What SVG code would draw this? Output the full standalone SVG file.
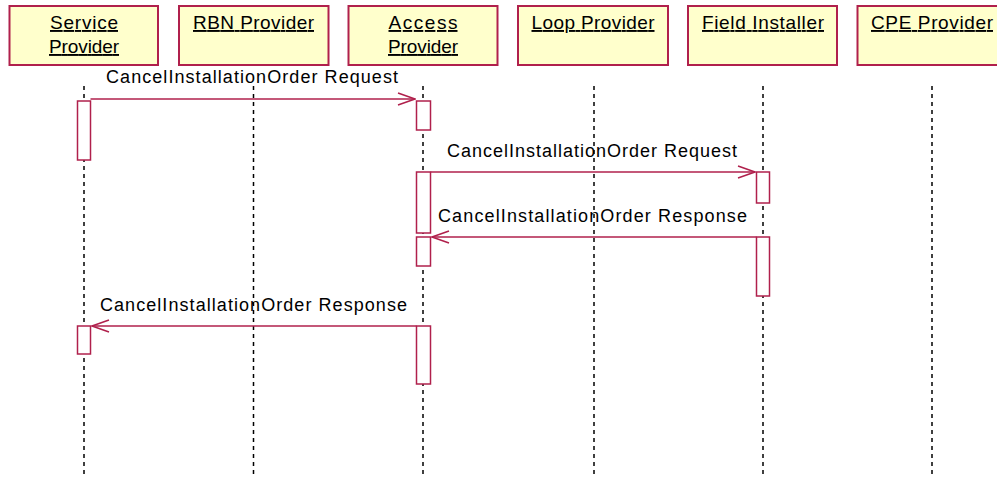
<svg xmlns="http://www.w3.org/2000/svg" width="997" height="477" viewBox="0 0 997 477">
<defs>
<style>
.hdr{fill:#FFFFCC;stroke:#B0204C;stroke-width:2}
.lbl{font-family:"Liberation Sans",Arial,sans-serif;font-size:19px;fill:#000;text-anchor:middle;text-decoration:underline}
.life{stroke:#000;stroke-width:1.5;stroke-dasharray:4 4;fill:none}
.act{fill:#fff;stroke:#B0204C;stroke-width:1.5}
.msg{stroke:#B0204C;stroke-width:1.5;fill:none}
.mtxt{font-family:"Liberation Sans",Arial,sans-serif;font-size:18px;fill:#000}
</style>
<marker id="open" viewBox="0 0 20 14" refX="19" refY="7" markerWidth="20" markerHeight="14" markerUnits="userSpaceOnUse" orient="auto">
<path d="M2,1 L19,7 L2,13" fill="none" stroke="#B0204C" stroke-width="1.5"/>
</marker>
</defs>
<rect width="997" height="477" fill="#fff"/>
<g id="lifelines">
<line class="life" x1="84" y1="86" x2="84" y2="477"/>
<line class="life" x1="253.5" y1="86" x2="253.5" y2="477"/>
<line class="life" x1="423" y1="86" x2="423" y2="477"/>
<line class="life" x1="594" y1="86" x2="594" y2="477"/>
<line class="life" x1="763" y1="86" x2="763" y2="477"/>
<line class="life" x1="932" y1="86" x2="932" y2="477"/>
</g>
<g id="service-provider">
<rect class="hdr" x="9.5" y="6" width="148.5" height="59"/>
<text class="lbl" x="84" y="29" textLength="68" lengthAdjust="spacing">Service </text>
<text class="lbl" x="84" y="53" textLength="70" lengthAdjust="spacing">Provider</text>
</g>
<g id="rbn-provider">
<rect class="hdr" x="179" y="6" width="149.5" height="59"/>
<text class="lbl" x="253.5" y="29" textLength="121" lengthAdjust="spacing">RBN Provider</text>
</g>
<g id="access-provider">
<rect class="hdr" x="348.5" y="6" width="149" height="59"/>
<text class="lbl" x="423" y="29" textLength="69" lengthAdjust="spacing">Access </text>
<text class="lbl" x="423" y="53" textLength="70" lengthAdjust="spacing">Provider</text>
</g>
<g id="loop-provider">
<rect class="hdr" x="518" y="6" width="150" height="59"/>
<text class="lbl" x="593" y="29" textLength="123" lengthAdjust="spacing">Loop Provider</text>
</g>
<g id="field-installer">
<rect class="hdr" x="688" y="6" width="149" height="59"/>
<text class="lbl" x="763" y="29" textLength="122" lengthAdjust="spacing">Field Installer</text>
</g>
<g id="cpe-provider">
<rect class="hdr" x="857.5" y="6" width="150" height="59"/>
<text class="lbl" x="932" y="29" textLength="122" lengthAdjust="spacing">CPE Provider</text>
</g>
<g id="activations">
<rect class="act" x="77.5" y="101" width="13" height="59"/>
<rect class="act" x="416.5" y="101" width="14" height="29"/>
<rect class="act" x="416.5" y="172" width="14" height="61"/>
<rect class="act" x="756.5" y="172" width="13" height="31"/>
<rect class="act" x="416.5" y="237" width="14" height="29"/>
<rect class="act" x="756.5" y="237" width="13" height="59"/>
<rect class="act" x="77.5" y="326" width="13" height="28"/>
<rect class="act" x="416.5" y="326" width="14" height="58"/>
</g>
<g id="connectors">
<line class="msg" x1="90.5" y1="99" x2="415" y2="99" marker-end="url(#open)"/>
<line class="msg" x1="430.5" y1="172" x2="755" y2="172" marker-end="url(#open)"/>
<line class="msg" x1="756.5" y1="237" x2="432" y2="237" marker-end="url(#open)"/>
<line class="msg" x1="416.5" y1="326" x2="92" y2="326" marker-end="url(#open)"/>
<text class="mtxt" x="106" y="83" textLength="292" lengthAdjust="spacing">CancelInstallationOrder Request</text>
<text class="mtxt" x="447" y="157" textLength="290" lengthAdjust="spacing">CancelInstallationOrder Request</text>
<text class="mtxt" x="438" y="222" textLength="309" lengthAdjust="spacing">CancelInstallationOrder Response</text>
<text class="mtxt" x="100" y="311" textLength="307" lengthAdjust="spacing">CancelInstallationOrder Response</text>
</g>
</svg>
